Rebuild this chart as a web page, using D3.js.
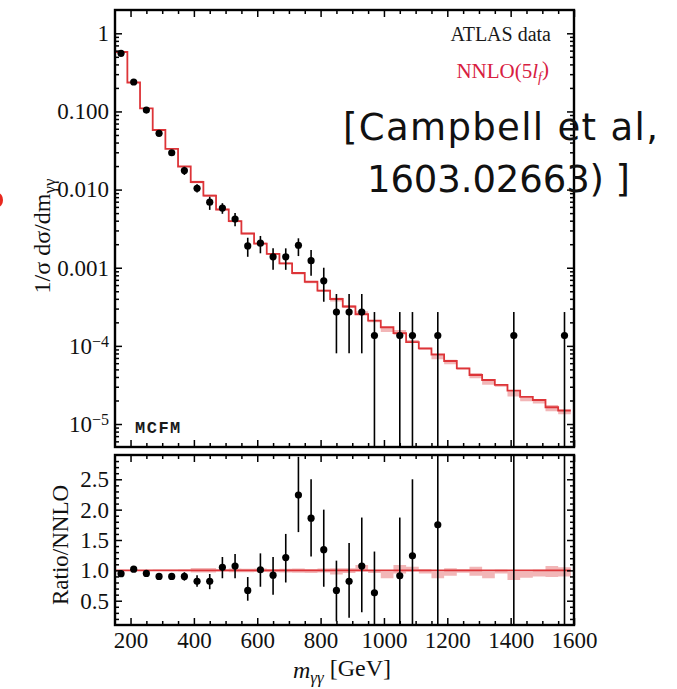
<!DOCTYPE html>
<html>
<head>
<meta charset="utf-8">
<script src="https://cdn.jsdelivr.net/npm/d3@7"></script>
<style>
  body { margin: 0; background: #fff; }
  svg { display: block; }
  .tick text { font-family: "Liberation Serif", "Times New Roman", serif; font-size: 23px; fill: #111; }
  .tick line { stroke: #000; stroke-width: 1.5; }
</style>
</head>
<body>
<svg id="chart" width="677" height="689"></svg>
<script>
// ---- NNLO prediction: 40 GeV bins in m_yy ----
const binEdges = [150,190,230,270,310,350,390,430,470,510,550,590,630,670,710,750,790,830,870,
                  910,950,990,1030,1070,1110,1150,1190,1230,1270,1310,1350,1390,1430,1470,1510,1550,1590];
const nnloVals = [0.576,0.2346,0.1097,0.0579,0.0332,0.01974,0.0125,0.00835,0.00556,0.00394,0.00274,
                  0.00204,0.00150,0.00114,0.000856,0.000662,0.000508,0.000398,0.000319,0.000254,0.000210,
                  0.000173,0.000146,0.000112,0.0000931,0.0000775,0.0000640,0.0000516,0.0000424,0.0000366,
                  0.0000316,0.0000267,0.0000223,0.0000203,0.0000164,0.0000148];
// scale-uncertainty band, relative to the central NNLO value
const bandLo = [0.995,0.995,0.993,0.99,0.99,0.985,0.965,0.965,0.98,0.97,0.97,0.975,0.97,0.965,0.96,0.955,
                0.965,0.93,0.955,0.98,0.955,0.87,0.95,0.98,0.95,0.87,0.91,0.96,0.91,0.87,0.95,0.84,0.88,0.90,0.89,0.90];
const bandHi = [1.005,1.005,1.007,1.01,1.01,1.015,1.04,1.04,1.02,1.03,1.025,1.03,1.02,1.025,1.03,1.02,
                1.03,1.036,1.036,1.09,0.99,0.98,1.09,1.06,1.02,0.98,1.036,1.02,1.06,0.98,1.01,0.98,0.98,1.01,1.07,1.05];

// ---- ATLAS data ----
const dataMass = [170,210,250,290,330,370,410,450,490,530,570,610,650,690,730,770,810,850,890,930,970,1050,1090,1170,1410,1570];
const dataVal = [0.555,0.238,0.104,0.0525,0.0296,0.0175,0.0104,0.0069,0.0058,0.0042,0.0019,0.00206,0.00138,0.00138,
                 0.00194,0.00123,0.00068,0.000271,0.000271,0.000271,0.0001355,0.0001355,0.0001355,0.0001355,0.0001355,0.0001355];
const dataLo = [0.54,0.23,0.099,0.050,0.0278,0.0154,0.0092,0.0055,0.0049,0.0034,0.00138,0.00153,0.00094,0.00094,
                0.00141,0.00079,0.000367,0.0000803,0.0000803,0.0000803,0,0,0,0,0,0];
const dataHi = [0.57,0.246,0.109,0.055,0.0315,0.0196,0.0117,0.0081,0.0067,0.0050,0.00242,0.00255,0.00177,0.00177,
                0.00238,0.00169,0.0010,0.000461,0.000461,0.000461,0.000271,0.000271,0.000271,0.000271,0.000271,0.000271];

// ---- data / NNLO ----
const ratioVal = [0.946,1.02,0.95,0.90,0.90,0.90,0.82,0.82,1.05,1.07,0.67,1.01,0.92,1.21,2.24,1.86,1.34,0.67,0.82,1.07,0.63,0.91,1.24,1.75,5.07,9.2];
const ratioLo = [0.93,1.0,0.93,0.87,0.86,0.83,0.73,0.69,0.87,0.87,0.50,0.73,0.60,0.80,1.63,1.23,0.73,0.16,0.22,0.31,0,0,0,0,0,0];
const ratioHi = [0.96,1.04,0.97,0.93,0.94,0.97,0.92,0.94,1.22,1.27,0.89,1.28,1.22,1.60,2.87,2.50,2.0,1.16,1.45,1.87,1.31,1.87,2.5,3.5,10.1,18.4];

// ---- axis ticks ----
const xMajor = [200,400,600,800,1000,1200,1400,1600];
const xMinor = [150,250,300,350,450,500,550,650,700,750,850,900,950,1050,1100,1150,1250,1300,1350,1450,1500,1550];
const yTopMajor = [1,0.1,0.01,0.001,1e-4,1e-5];
const yTopLabels = ["1","0.100","0.010","0.001","10|\u22124","10|\u22125"];
const yRatMajor = [0.5,1.0,1.5,2.0,2.5];
const yRatLabels = ["0.5","1.0","1.5","2.0","2.5"];

const svg = d3.select("#chart");
const X0 = 115, X1 = 574, T0 = 10, T1 = 447, R0 = 455, R1 = 625;

const x = d3.scaleLinear().domain([150, 1600]).range([114.7, 574]);
const yT = d3.scaleLog().domain([5.08e-6, 1.987]).range([T1, T0]);
const yR = d3.scaleLinear().domain([0.1, 2.9]).range([R1, R0]);

const logMinor = [];
[-6,-5,-4,-3,-2,-1,0].forEach(p => [2,3,4,5,6,7,8,9].forEach(m => {
  const v = m * Math.pow(10, p);
  if (v > 5.08e-6 && v < 1.987) logMinor.push(v);
}));
const ratMinor = d3.range(2, 29).map(i => i / 10).filter(v => Math.abs(v * 2 - Math.round(v * 2)) > 1e-6);

const defs = svg.append("defs");
defs.append("clipPath").attr("id", "clipTop").append("rect")
  .attr("x", X0).attr("y", T0).attr("width", X1 - X0).attr("height", T1 - T0);
defs.append("clipPath").attr("id", "clipRat").append("rect")
  .attr("x", X0).attr("y", R0).attr("width", X1 - X0).attr("height", R1 - R0);

const red = "#dd3438", pink = "#f0a9aa";

// ================= upper panel =================
const gMain = svg.append("g").attr("clip-path", "url(#clipTop)");
const stepData = nnloVals.map((v, i) => ({ e: binEdges[i], v, lo: v * bandLo[i], hi: v * bandHi[i] }));
const last = nnloVals.length - 1;
stepData.push({ e: binEdges[binEdges.length - 1], v: nnloVals[last],
  lo: nnloVals[last] * bandLo[last], hi: nnloVals[last] * bandHi[last] });

gMain.append("path").datum(stepData)
  .attr("d", d3.area().curve(d3.curveStepAfter).x(d => x(d.e)).y0(d => yT(d.lo)).y1(d => yT(d.hi)))
  .attr("fill", pink).attr("opacity", 0.85);
gMain.append("path").datum(stepData)
  .attr("d", d3.line().curve(d3.curveStepAfter).x(d => x(d.e)).y(d => yT(d.v)))
  .attr("fill", "none").attr("stroke", red).attr("stroke-width", 1.8);

gMain.selectAll("line.err").data(dataMass).join("line").attr("class", "err")
  .attr("x1", d => x(d)).attr("x2", d => x(d))
  .attr("y1", (d, i) => dataLo[i] > 0 ? yT(dataLo[i]) : T1)
  .attr("y2", (d, i) => yT(dataHi[i]))
  .attr("stroke", "#000").attr("stroke-width", 1.6);
gMain.selectAll("circle").data(dataMass).join("circle")
  .attr("cx", d => x(d)).attr("cy", (d, i) => yT(dataVal[i])).attr("r", 3.6).attr("fill", "#000");

// ================= ratio panel =================
const gRat = svg.append("g").attr("clip-path", "url(#clipRat)");
gRat.append("path").datum(stepData)
  .attr("d", d3.area().curve(d3.curveStepAfter).x(d => x(d.e))
    .y0(d => yR(d.lo / d.v)).y1(d => yR(d.hi / d.v)))
  .attr("fill", pink).attr("opacity", 0.85);
gRat.append("line")
  .attr("x1", x(binEdges[0])).attr("x2", x(binEdges[binEdges.length - 1]))
  .attr("y1", yR(1)).attr("y2", yR(1)).attr("stroke", red).attr("stroke-width", 1.6);
gRat.selectAll("line.err").data(dataMass).join("line").attr("class", "err")
  .attr("x1", d => x(d)).attr("x2", d => x(d))
  .attr("y1", (d, i) => yR(ratioLo[i])).attr("y2", (d, i) => yR(ratioHi[i]))
  .attr("stroke", "#000").attr("stroke-width", 1.6);
gRat.selectAll("circle").data(dataMass).join("circle")
  .attr("cx", d => x(d)).attr("cy", (d, i) => yR(ratioVal[i])).attr("r", 3.6).attr("fill", "#000");

// ================= axes =================
function noDomain(g) { g.select(".domain").remove(); }
function tickAxis(axis, tx, ty) {
  svg.append("g").attr("transform", `translate(${tx},${ty})`).call(axis).call(noDomain);
}
const MAJ = 7, MIN = 4;

// upper panel x ticks (top and bottom edges, inward)
tickAxis(d3.axisBottom(x).tickValues(xMajor).tickSize(MAJ).tickFormat(""), 0, T0);
tickAxis(d3.axisBottom(x).tickValues(xMinor).tickSize(MIN).tickFormat(""), 0, T0);
tickAxis(d3.axisTop(x).tickValues(xMajor).tickSize(MAJ).tickFormat(""), 0, T1);
tickAxis(d3.axisTop(x).tickValues(xMinor).tickSize(MIN).tickFormat(""), 0, T1);
// upper panel y ticks
tickAxis(d3.axisLeft(yT).tickValues(yTopMajor).tickSize(-MAJ).tickPadding(6)
  .tickFormat((d, i) => yTopLabels[i]), X0, 0);
tickAxis(d3.axisLeft(yT).tickValues(logMinor).tickSize(-MIN).tickFormat(""), X0, 0);
tickAxis(d3.axisRight(yT).tickValues(yTopMajor).tickSize(-MAJ).tickFormat(""), X1, 0);
tickAxis(d3.axisRight(yT).tickValues(logMinor).tickSize(-MIN).tickFormat(""), X1, 0);

// power-of-ten labels with superscripts
svg.selectAll(".tick text").each(function () {
  const t = d3.select(this), s = t.text();
  if (s.indexOf("|") >= 0) {
    const [base, exp] = s.split("|");
    t.text(null);
    t.append("tspan").text(base);
    t.append("tspan").attr("dy", "-0.45em").attr("font-size", "16px").text(exp);
  }
});

// ratio panel ticks
tickAxis(d3.axisBottom(x).tickValues(xMajor).tickSize(MAJ).tickFormat(""), 0, R0);
tickAxis(d3.axisBottom(x).tickValues(xMinor).tickSize(MIN).tickFormat(""), 0, R0);
tickAxis(d3.axisBottom(x).tickValues(xMajor).tickSize(-MAJ).tickPadding(7).tickFormat(d3.format("d")), 0, R1);
tickAxis(d3.axisBottom(x).tickValues(xMinor).tickSize(-MIN).tickFormat(""), 0, R1);
tickAxis(d3.axisLeft(yR).tickValues(yRatMajor).tickSize(-MAJ).tickPadding(6)
  .tickFormat((d, i) => yRatLabels[i]), X0, 0);
tickAxis(d3.axisLeft(yR).tickValues(ratMinor).tickSize(-MIN).tickFormat(""), X0, 0);
tickAxis(d3.axisRight(yR).tickValues(yRatMajor).tickSize(-MAJ).tickFormat(""), X1, 0);
tickAxis(d3.axisRight(yR).tickValues(ratMinor).tickSize(-MIN).tickFormat(""), X1, 0);

// frames
[[T0, T1], [R0, R1]].forEach(([a, b]) => {
  svg.append("rect").attr("x", X0).attr("y", a).attr("width", X1 - X0).attr("height", b - a)
    .attr("fill", "none").attr("stroke", "#000").attr("stroke-width", 2.4);
});

// ================= text =================
const serif = "'Liberation Serif', 'Times New Roman', serif";

const yTitle = svg.append("text")
  .attr("transform", "translate(50,236) rotate(-90)")
  .attr("text-anchor", "middle").attr("font-family", serif).attr("font-size", 24).attr("fill", "#111");
yTitle.append("tspan").text("1/\u03c3 d\u03c3/dm");
yTitle.append("tspan").attr("dy", "0.3em").attr("font-size", 17).text("\u03b3\u03b3");

svg.append("text")
  .attr("transform", "translate(68,545) rotate(-90)")
  .attr("text-anchor", "middle").attr("font-family", serif).attr("font-size", 23).attr("fill", "#111")
  .text("Ratio/NNLO");

const xTitle = svg.append("text")
  .attr("x", 342).attr("y", 678).attr("text-anchor", "middle")
  .attr("font-family", serif).attr("font-size", 24).attr("fill", "#111");
xTitle.append("tspan").attr("font-style", "italic").text("m");
xTitle.append("tspan").attr("font-style", "italic").attr("font-size", 17).attr("dy", "0.3em").text("\u03b3\u03b3");
xTitle.append("tspan").attr("dy", "-0.3em").text(" [GeV]");

svg.append("text").attr("x", 551).attr("y", 41).attr("text-anchor", "end")
  .attr("font-family", serif).attr("font-size", 20).attr("fill", "#1a1a1a").text("ATLAS data");

const nn = svg.append("text").attr("x", 549).attr("y", 78).attr("text-anchor", "end")
  .attr("font-family", serif).attr("font-size", 21).attr("fill", "#d8203f");
nn.append("tspan").text("NNLO(5");
nn.append("tspan").attr("font-style", "italic").text("l");
nn.append("tspan").attr("font-style", "italic").attr("font-size", 14).attr("dy", "0.3em").text("f");
nn.append("tspan").attr("dy", "-0.3em").text(")");

svg.append("text").attr("x", 135).attr("y", 433)
  .attr("font-family", "'Liberation Mono', 'Courier New', monospace").attr("font-weight", "bold")
  .attr("font-size", 17).attr("letter-spacing", 1.5).attr("fill", "#1a1a1a").text("MCFM");

const cite = svg.append("g").attr("font-family", "'DejaVu Sans', sans-serif").attr("font-size", 37).attr("fill", "#111");
cite.append("text").attr("x", 343).attr("y", 140).attr("textLength", 315).attr("lengthAdjust", "spacing")
  .text("[Campbell et al,");
cite.append("text").attr("x", 367).attr("y", 192).attr("textLength", 263).attr("lengthAdjust", "spacing")
  .text("1603.02663) ]");

// small red mark at the left margin
svg.append("ellipse").attr("cx", -2).attr("cy", 200).attr("rx", 5).attr("ry", 7).attr("fill", "#e8281e");
</script>
</body>
</html>
